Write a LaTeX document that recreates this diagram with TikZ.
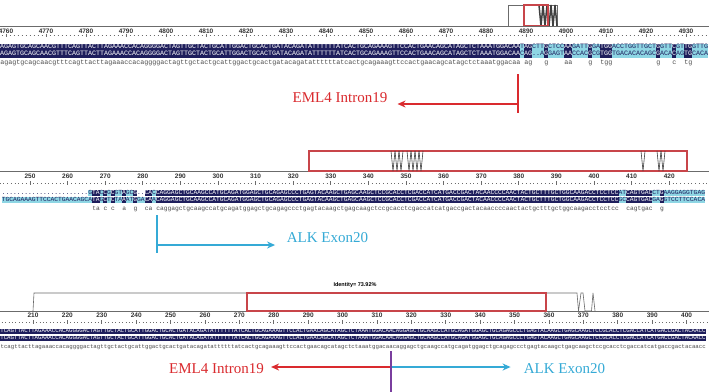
\documentclass[tikz,border=0pt]{standalone}
\usepackage{fontspec}
\setmainfont{Liberation Serif}
\setsansfont{Liberation Sans}
\setmonofont{Liberation Mono}
\usetikzlibrary{arrows.meta, positioning}
\definecolor{cnavy}{HTML}{1E1E5C}
\definecolor{ccyan}{HTML}{8ED6E4}
\definecolor{cred}{HTML}{DA2A2E}
\definecolor{cblue}{HTML}{35AAD6}
\definecolor{cpurple}{HTML}{7A3E9E}
\definecolor{cgrey}{HTML}{6B6B6B}
\definecolor{cbox}{HTML}{C8454A}
\tikzset{
  every picture/.style={line width=0.6pt},
  seq/.style={anchor=west, inner sep=0pt, outer sep=0pt, text=cnavy},
  cons/.style={anchor=base west, inner sep=0pt, text=black!70},
  num/.style={font=\sffamily\bfseries\fontsize{6.5}{6.5}\selectfont, text=black!80, inner sep=0pt},
  rulerln/.style={draw=cgrey, line width=0.7pt},
  tickdots/.style={draw=cgrey, line width=0.6pt, dash pattern=on 0.7pt off #1},
  trace/.style={draw=black!75, line width=0.6pt},
  selbox/.style={draw=cbox, line width=1.1pt},
  lbl/.style={font=\fontsize{15}{16}\selectfont, inner sep=0pt, anchor=base},
  arrow/.style={-{Stealth[length=8pt, width=7pt]}, line width=1.6pt},
  idty/.style={font=\sffamily\bfseries\fontsize{5.5}{5.5}\selectfont, inner sep=0pt},
}
\newcommand{\rowstrut}{\rule[-1.7pt]{0pt}{5.3pt}}
\newcommand{\hit}[1]{{\setlength{\fboxsep}{0pt}\colorbox{cnavy}{\rowstrut\textcolor{white}{#1}}}}
\newcommand{\mis}[1]{{\setlength{\fboxsep}{0pt}\colorbox{ccyan}{\rowstrut\textcolor{cnavy}{#1}}}}
\newcommand{\fseqa}{\ttfamily\fontsize{6.667}{7}\selectfont}
\newcommand{\fseqb}{\ttfamily\fontsize{6.267}{7}\selectfont}
\newcommand{\fseqc}{\ttfamily\fontsize{5.733}{7}\selectfont}

\begin{document}
\begin{tikzpicture}[x=1pt, y=-1pt]
  \useasboundingbox (0,0) rectangle (709,391);
  \clip (0,0) rectangle (709,391);
  \fill[white] (0,0) rectangle (709,391);

  % top: genomic EML4 vs fusion
  \draw[trace, draw=cgrey] (508,26) -- (508,5) -- (557,5) -- (557,26);
  \draw[trace, line width=1.5pt] (539,5) -- (541,26) -- (543,5) -- (545,26) -- (547,5) -- (549,26) -- (551,5) -- (553,26) -- (555,5) -- (557,26);
  \draw[selbox] (524,5) rectangle (548,26);
  \draw[rulerln] (0,26) -- (709,26);
  \foreach \n [count=\k from 0] in {4760,4770,...,4930}
    \node[num] (na\k) at ({6+40*\k},31) {\n};
  \draw[tickdots=3.3pt] (1.65,35.5) -- (709,35.5);
  \foreach \k in {0,...,17}
    \draw[rulerln] ({6+40*\k},33.5) -- ({6+40*\k},37);
  \node[seq, font=\fseqa] (sa1) at (0,47.5) {\hit{AGAGTGCAGCAACGTTTCAGTTACTTAGAAACCACAGGGGACTAGTTGCTACTGCATTGGACTGCACTGATACAGATATTTTTTATCACTGCAGAAAGTTCCACTGAACAGCATAGCTCTAAATGGACAA}\mis{T}\hit{AG}\mis{CTT}\hit{G}\mis{CTCC}\hit{AA}\mis{GATT}\hit{G}\mis{GA}\hit{TGG}\mis{ACCTGGTTGCT}\hit{G}\mis{GTT}\hit{C}\mis{GT}\hit{TG}\mis{GTTG}};
  \node[seq, font=\fseqa] (sa2) at (0,54.5) {\hit{AGAGTGCAGCAACGTTTCAGTTACTTAGAAACCACAGGGGACTAGTTGCTACTGCATTGGACTGCACTGATACAGATATTTTTTATCACTGCAGAAAGTTCCACTGAACAGCATAGCTCTAAATGGACAA}\mis{C}\hit{AG}\mis{..A}\hit{G}\mis{GAGT}\hit{AA}\mis{CCAC}\hit{G}\mis{CG}\hit{TGG}\mis{TGACACACAGC}\hit{G}\mis{ACA}\hit{C}\mis{AG}\hit{TG}\mis{CACA}};
  \node[cons, font=\fseqa] (ca) at (0,64) {agagtgcagcaacgtttcagttacttagaaaccacaggggactagttgctactgcattggactgcactgatacagatattttttatcactgcagaaagttccactgaacagcatagctctaaatggacaa~ag~~~g~~~~aa~~~~g~~tgg~~~~~~~~~~~g~~~c~~tg};
  \coordinate (ja) at (518,104);
  \coordinate (ta) at (518,74);
  \coordinate (ba) at (518,113);
  \node[lbl, text=cred] (ea) at (340,102) {EML4 Intron19};
  \draw[cred, line width=1.6pt] (ta) -- (ba);
  \draw[arrow, cred, shorten >=10pt] (ja) -- (ea.east |- ja);

  % middle: ALK exon 20
  \draw[rulerln] (0,171) -- (709,171);
  \draw[selbox] (309,151) rectangle (687,171);
  \foreach \x in {393,397,401,409,413,417,421,643,659,663}
    \draw[trace] ({\x-2},151) -- (\x,171) -- ({\x+2},151);
  \foreach \n [count=\k from 0] in {250,260,...,420}
    \node[num] (nb\k) at ({30+37.6*\k},176) {\n};
  \draw[tickdots=3.06pt] (-0.43,183) -- (709,183);
  \foreach \k in {0,...,17}
    \draw[rulerln] ({30+37.6*\k},181) -- ({30+37.6*\k},184.5);
  \node[seq, font=\fseqb] (sb1) at (1.76,193) {.......................\mis{G}\hit{TA}\mis{C}\hit{C}\mis{G}\hit{C}\mis{GT}\hit{A}\mis{GC}\hit{G}..\hit{CA}\mis{C}\hit{CAGGAGCTGCAAGCCATGCAGATGGAGCTGCAGAGCCCTGAGTACAAGCTGAGCAAGCTCCGCACCTCGACCATCATGACCGACTACAACCCCAACTACTGCTTTGCTGGCAAGACCTCCTCC}\mis{AT}\hit{CAGTGAC}\mis{CT}\hit{G}\mis{AAGGAGGTGAG}};
  \node[seq, font=\fseqb] (sb2) at (1.76,200) {\mis{TGCAGAAAGTTCCACTGAACAGC}\mis{A}\hit{TA}\mis{G}\hit{C}\mis{T}\hit{C}\mis{TA}\hit{A}\mis{AT}\hit{G}\mis{GA}\hit{CA}\mis{A}\hit{CAGGAGCTGCAAGCCATGCAGATGGAGCTGCAGAGCCCTGAGTACAAGCTGAGCAAGCTCCGCACCTCGACCATCATGACCGACTACAACCCCAACTACTGCTTTGCTGGCAAGACCTCCTCC}\mis{GC}\hit{CAGTGAC}\mis{GA}\hit{G}\mis{GTCCTTCCACA}};
  \node[cons, font=\fseqb] (cb) at (88.28,210) {~ta~c~c~~a~~g~~ca~caggagctgcaagccatgcagatggagctgcagagccctgagtacaagctgagcaagctccgcacctcgaccatcatgaccgactacaaccccaactactgctttgctggcaagacctcctcc~~cagtgac~~g};
  \coordinate (jb) at (157,245);
  \coordinate (tb) at (157,215);
  \coordinate (bb) at (157,253);
  \node[lbl, text=cblue] (ab) at (327.5,242) {ALK Exon20};
  \draw[cblue, line width=1.6pt] (tb) -- (bb);
  \draw[arrow, cblue, shorten >=11.5pt] (jb) -- (ab.west |- jb);

  % bottom: fusion junction
  \node[idty] (idt) at (355,285) {Identity= 73.92\%};
  \draw[rulerln] (0,311) -- (709,311);
  \draw[trace, draw=cgrey] (33,311) -- (34,293) -- (577,293) -- (578.5,311) -- (581,293) -- (583,293) -- (585,311) -- (591.5,311) -- (593,293) -- (595,311);
  \draw[selbox] (247,293) rectangle (546,311);
  \foreach \n [count=\k from 0] in {210,220,...,400}
    \node[num] (nc\k) at ({33+34.4*\k},315.5) {\n};
  \draw[tickdots=2.74pt] (-1.75,322) -- (709,322);
  \foreach \k in {0,...,19}
    \draw[rulerln] ({33+34.4*\k},320) -- ({33+34.4*\k},323.5);
  \node[seq, font=\fseqc] (sc1) at (0.32,331.5) {\hit{TCAGTTACTTAGAAACCACAGGGGACTAGTTGCTACTGCATTGGACTGCACTGATACAGATATTTTTTATCACTGCAGAAAGTTCCACTGAACAGCATAGCTCTAAATGGACAACAGGAGCTGCAAGCCATGCAGATGGAGCTGCAGAGCCCTGAGTACAAGCTGAGCAAGCTCCGCACCTCGACCATCATGACCGACTACAACC}};
  \node[seq, font=\fseqc] (sc2) at (0.32,338.5) {\hit{TCAGTTACTTAGAAACCACAGGGGACTAGTTGCTACTGCATTGGACTGCACTGATACAGATATTTTTTATCACTGCAGAAAGTTCCACTGAACAGCATAGCTCTAAATGGACAACAGGAGCTGCAAGCCATGCAGATGGAGCTGCAGAGCCCTGAGTACAAGCTGAGCAAGCTCCGCACCTCGACCATCATGACCGACTACAACC}};
  \node[cons, font=\fseqc] (cc) at (0.32,348) {tcagttacttagaaaccacaggggactagttgctactgcattggactgcactgatacagatattttttatcactgcagaaagttccactgaacagcatagctctaaatggacaacaggagctgcaagccatgcagatggagctgcagagccctgagtacaagctgagcaagctccgcacctcgaccatcatgaccgactacaacc};
  \coordinate (jc) at (391,367);
  \coordinate (tc) at (391,351);
  \coordinate (bc) at (391,392);
  \node[lbl, text=cred] (ec) at (216.5,373) {EML4 Intron19};
  \node[lbl, text=cblue] (ac) at (564.5,373) {ALK Exon20};
  \draw[arrow, cred, shorten >=7pt] (jc) -- (ec.east |- jc);
  \draw[arrow, cblue, shorten >=13pt] (jc) -- (ac.west |- jc);
  \draw[cpurple, line width=1.8pt] (tc) -- (bc);
\end{tikzpicture}
\end{document}
